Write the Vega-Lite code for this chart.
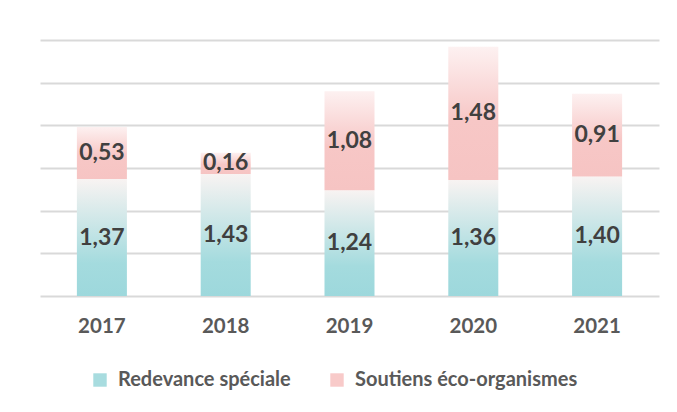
{
  "$schema": "https://vega.github.io/schema/vega-lite/v6.json",
  "width": 619,
  "height": 256,
  "autosize": "none",
  "padding": {"left": 40, "top": 40, "right": 18, "bottom": 116},
  "background": "white",
  "config": {"view": {"stroke": null}, "font": "Lato"},
  "data": {
    "values": [
      {"year": "2017", "series": "Redevance spéciale", "value": 1.37, "label": "1,37"},
      {"year": "2017", "series": "Soutiens éco-organismes", "value": 0.61, "label": "0,53"},
      {"year": "2018", "series": "Redevance spéciale", "value": 1.43, "label": "1,43"},
      {"year": "2018", "series": "Soutiens éco-organismes", "value": 0.25, "label": "0,16"},
      {"year": "2019", "series": "Redevance spéciale", "value": 1.24, "label": "1,24"},
      {"year": "2019", "series": "Soutiens éco-organismes", "value": 1.16, "label": "1,08"},
      {"year": "2020", "series": "Redevance spéciale", "value": 1.36, "label": "1,36"},
      {"year": "2020", "series": "Soutiens éco-organismes", "value": 1.56, "label": "1,48"},
      {"year": "2021", "series": "Redevance spéciale", "value": 1.40, "label": "1,40"},
      {"year": "2021", "series": "Soutiens éco-organismes", "value": 0.97, "label": "0,91"}
    ]
  },
  "transform": [
    {"stack": "value", "groupby": ["year"], "sort": [{"field": "series", "order": "ascending"}], "as": ["lo", "hi"]},
    {"calculate": "(datum.lo + datum.hi) / 2", "as": "mid"}
  ],
  "encoding": {
    "x": {
      "field": "year",
      "type": "nominal",
      "scale": {"paddingInner": 0.596, "paddingOuter": 0.298},
      "axis": {
        "title": null,
        "labelAngle": 0,
        "ticks": false,
        "domain": false,
        "labelFont": "Lato",
        "labelFontSize": 20.5,
        "labelFontWeight": "bold",
        "labelColor": "#595959",
        "labelPadding": 20
      }
    }
  },
  "layer": [
    {
      "mark": {"type": "bar", "opacity": 0},
      "encoding": {
        "y": {
          "field": "hi",
          "type": "quantitative",
          "scale": {"domain": [0, 3]},
          "axis": {
            "title": null,
            "labels": false,
            "ticks": false,
            "domain": false,
            "grid": true,
            "gridColor": "#d9d9d9",
            "gridWidth": 2,
            "values": [0, 0.5, 1, 1.5, 2, 2.5, 3]
          }
        },
        "y2": {"field": "lo"},
        "fill": {
          "field": "series",
          "type": "nominal",
          "scale": {"domain": ["Redevance spéciale", "Soutiens éco-organismes"], "range": ["#a8dcdf", "#f8cac9"]},
          "legend": {
            "orient": "none",
            "legendX": 50,
            "legendY": 330,
            "direction": "horizontal",
            "title": null,
            "symbolType": "square",
            "symbolSize": 180,
            "symbolStrokeWidth": 0,
            "symbolOpacity": 1,
            "labelFont": "Lato",
            "labelFontSize": 20,
            "labelFontWeight": "bold",
            "labelColor": "#595959",
            "labelLimit": 400,
            "labelOffset": 8,
            "columnPadding": 36,
            "encode": {
              "symbols": {
                "update": {
                  "fill": {"signal": "datum.value === 'Redevance spéciale' ? {gradient: 'linear', x1: 0, y1: 1, x2: 0, y2: 0, stops: [{offset: 0, color: '#9dd8dc'}, {offset: 1, color: '#f3f3f3'}]} : {gradient: 'linear', x1: 0, y1: 1, x2: 0, y2: 0, stops: [{offset: 0, color: '#f6c4c3'}, {offset: 1, color: '#fdeeee'}]}"},
                  "opacity": {"value": 1},
                  "fillOpacity": {"value": 1},
                  "stroke": {"value": null}
                }
              }
            }
          }
        }
      }
    },
    {
      "mark": {"type": "bar"},
      "encoding": {
        "y": {"field": "hi", "type": "quantitative"},
        "y2": {"field": "lo"},
        "fill": {
          "condition": {
            "test": "datum.series === 'Redevance spéciale'",
            "value": {"gradient": "linear", "x1": 0, "y1": 1, "x2": 0, "y2": 0, "stops": [{"offset": 0, "color": "#9dd8dc"}, {"offset": 0.28, "color": "#a4dbde"}, {"offset": 1, "color": "#f8f3f2"}]}
          },
          "value": {"gradient": "linear", "x1": 0, "y1": 1, "x2": 0, "y2": 0, "stops": [{"offset": 0, "color": "#f6c4c3"}, {"offset": 0.45, "color": "#f7c7c6"}, {"offset": 1, "color": "#fdf1f1"}]}
        }
      }
    },
    {
      "mark": {"type": "text", "font": "Lato", "fontSize": 23, "fontWeight": "bold", "color": "#404040", "align": "center", "baseline": "middle"},
      "encoding": {
        "y": {"field": "mid", "type": "quantitative"},
        "text": {"field": "label"}
      }
    }
  ]
}
